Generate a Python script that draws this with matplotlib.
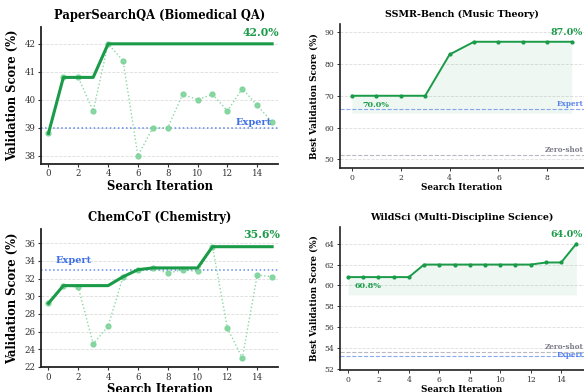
import numpy as np
import matplotlib.pyplot as plt

plt.rcParams['font.family'] = 'DejaVu Serif'

# ---- data ----
iters_a = np.arange(16)
paper_scores = [38.8, 40.8, 40.8, 39.6, 42.0, 41.4, 38.0, 39.0, 39.0, 40.2, 40.0, 40.2, 39.6, 40.4, 39.8, 39.2]
paper_best = [38.8, 40.8, 40.8, 40.8, 42.0, 42.0, 42.0, 42.0, 42.0, 42.0, 42.0, 42.0, 42.0, 42.0, 42.0, 42.0]
paper_expert = 39.0

chem_scores = [29.2, 31.2, 31.0, 24.6, 26.6, 32.2, 33.0, 33.2, 32.6, 33.0, 32.8, 35.6, 26.4, 23.0, 32.4, 32.2]
chem_best = [29.2, 31.2, 31.2, 31.2, 31.2, 32.2, 33.0, 33.2, 33.2, 33.2, 33.2, 35.6, 35.6, 35.6, 35.6, 35.6]
chem_expert = 33.0

iters_b = np.arange(10)
ssmr_best = [70, 70, 70, 70, 83, 87, 87, 87, 87, 87]
ssmr_expert = 65.7
ssmr_zero = 51.5

iters_c = np.arange(16)
wild_best = [60.8, 60.8, 60.8, 60.8, 60.8, 62.0, 62.0, 62.0, 62.0, 62.0, 62.0, 62.0, 62.0, 62.2, 62.2, 64.0]
wild_expert = 53.2
wild_zero = 53.6

GREEN = '#1a9b48'
LIGHT = '#7dd39a'
BLUE = '#3d6ee8'
GRAY = '#9a9aa6'

fig = plt.figure(figsize=(5.84, 3.92), dpi=100)


def style(ax, lw=1.2):
    for s in ['top', 'right']:
        ax.spines[s].set_visible(False)
    for s in ['left', 'bottom']:
        ax.spines[s].set_linewidth(lw)
        ax.spines[s].set_color('#222222')
    ax.grid(axis='y', linestyle='--', color='#dddddd', linewidth=0.6)
    ax.set_axisbelow(True)


def left_panel(rect, scores, best, expert, title, ylim, yticks, exp_xy, exp_ha):
    ax = fig.add_axes(rect)
    style(ax, 1.3)
    ax.axhline(expert, color=BLUE, linestyle=':', linewidth=1.1, alpha=0.8)
    ax.plot(iters_a, scores, linestyle=':', color=LIGHT, linewidth=1.0,
            marker='o', markersize=3.5, alpha=0.9)
    ax.plot(iters_a, best, color=GREEN, linewidth=2.2)
    ax.text(exp_xy[0], exp_xy[1], 'Expert', color=BLUE, fontsize=7,
            fontweight='bold', ha=exp_ha, va='center')
    ax.text(15.5, best[-1] + (ylim[1] - ylim[0]) * 0.085, f'{best[-1]:.1f}%',
            color=GREEN, fontsize=7.8, fontweight='bold', ha='right', va='center')
    ax.set_xlim(-0.5, 15.4)
    ax.set_ylim(*ylim)
    ax.set_xticks(range(0, 16, 2))
    ax.set_yticks(yticks)
    ax.tick_params(labelsize=6.2, length=2, width=0.8, pad=2, colors='#333333')
    ax.set_xlabel('Search Iteration', fontsize=8.3, fontweight='bold', labelpad=1)
    ax.set_ylabel('Validation Score (%)', fontsize=8.3, fontweight='bold', labelpad=4)
    ax.set_title(title, fontsize=8.3, fontweight='bold', pad=6)
    return ax


def right_panel(rect, x, best, expert, zero, title, ylim, yticks, xlim, floor,
                start_xy, end_y, exp_y, zero_y):
    ax = fig.add_axes(rect)
    style(ax, 1.2)
    ax.axhline(expert, color=BLUE, linestyle='--', linewidth=0.8, alpha=0.6)
    ax.axhline(zero, color=GRAY, linestyle='--', linewidth=0.8, alpha=0.7)
    ax.fill_between(x, floor, best, color=GREEN, alpha=0.07, linewidth=0)
    ax.plot(x, best, color=GREEN, linewidth=1.4, marker='o', markersize=2)
    ax.text(xlim[1], exp_y, 'Expert', color=BLUE, fontsize=5.2,
            fontweight='bold', ha='right', va='bottom', alpha=0.85)
    ax.text(xlim[1], zero_y, 'Zero-shot', color='#666677', fontsize=5.2,
            fontweight='bold', ha='right', va='bottom', alpha=0.85)
    ax.text(start_xy[0], start_xy[1], f'{best[0]:.1f}%', color=GREEN, fontsize=5.8,
            fontweight='bold', ha='center', va='center')
    ax.text(xlim[1] - 0.05, end_y, f'{best[-1]:.1f}%', color=GREEN, fontsize=6.8,
            fontweight='bold', ha='right', va='center')
    ax.set_xlim(*xlim)
    ax.set_ylim(*ylim)
    ax.set_yticks(yticks)
    ax.tick_params(labelsize=5.5, length=2, width=0.7, pad=2, colors='#333333')
    ax.set_xlabel('Search Iteration', fontsize=6.3, fontweight='bold', labelpad=1)
    ax.set_ylabel('Best Validation Score (%)', fontsize=6.3, fontweight='bold', labelpad=4)
    ax.set_title(title, fontsize=6.8, fontweight='bold', pad=5)
    return ax


left_panel([0.0702, 0.582, 0.406, 0.349], paper_scores, paper_best, paper_expert,
           'PaperSearchQA (Biomedical QA)', (37.71, 42.6), [38, 39, 40, 41, 42],
           (15.0, 39.2), 'right')
left_panel([0.0702, 0.0638, 0.406, 0.352], chem_scores, chem_best, chem_expert,
           'ChemCoT (Chemistry)', (22.0, 37.6), list(range(22, 37, 2)),
           (0.5, 34.0), 'left')

ax2 = right_panel([0.582, 0.571, 0.418, 0.367], iters_b, ssmr_best, ssmr_expert, ssmr_zero,
                  'SSMR-Bench (Music Theory)', (47.2, 92.5), [50, 60, 70, 80, 90],
                  (-0.49, 9.5), 64.5, (1.0, 67.0), 89.8, 66.0, 51.8)
ax2.set_xticks([0, 2, 4, 6, 8])

ax4 = right_panel([0.582, 0.056, 0.418, 0.365], iters_c, wild_best, wild_expert, wild_zero,
                  'WildSci (Multi-Discipline Science)', (51.9, 65.6), list(range(52, 65, 2)),
                  (-0.53, 15.5), 59.1, (1.3, 59.9), 64.9, 53.0, 53.7)
ax4.set_xticks(range(0, 16, 2))

fig.savefig('out.png', dpi=100)
